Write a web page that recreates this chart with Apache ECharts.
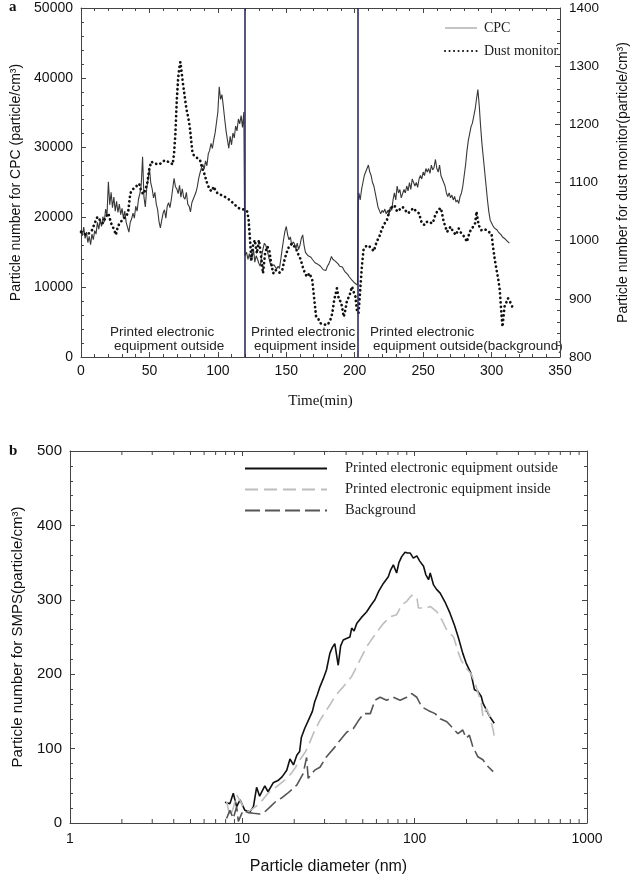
<!DOCTYPE html>
<html>
<head>
<meta charset="utf-8">
<script src="https://cdn.jsdelivr.net/npm/echarts@6/dist/echarts.min.js"></script>
<style>html,body{margin:0;padding:0;background:#fff;}#c{width:638px;height:879px;}</style>
</head>
<body>
<div id="c"></div>
<script>
// ---------- Panel a : time series ----------
const cpcSeries = [
[0,18200],[1,17400],[2,18600],[3,17000],[4,17900],[5,16400],[6,17300],[7,16100],[8,17600],[9,16800],
[10,18100],[11,17600],[12,19300],[13,18300],[14,19600],[15,18700],[16,20100],[17,19300],[18,21200],[19,20300],
[20,25100],[21,21800],[22,23600],[23,21400],[24,22900],[25,20900],[26,22300],[27,20700],[28,21900],[29,20400],
[30,21300],[31,19900],[32,20900],[33,19300],[34,19100],[35,17900],[36,19300],[37,19800],[38,20600],[39,19900],
[40,21600],[41,20900],[42,22600],[43,23400],[44,24600],[45,28700],[46,22900],[47,21500],[48,24100],[49,25400],
[50,27100],[51,24900],[52,24100],[53,22800],[54,23600],[55,21900],[56,21100],[57,19400],[58,18500],[59,19600],
[60,20600],[61,21100],[62,19900],[63,21600],[64,22100],[65,21400],[66,22600],[67,24100],[68,25600],[69,24400],
[70,24100],[71,23400],[72,24600],[73,22900],[74,24100],[75,22900],[76,22600],[77,23600],[78,21900],[79,21600],
[80,20800],[81,22100],[82,22600],[83,23100],[84,23600],[85,24400],[86,25600],[87,26400],[88,27100],[89,27600],
[90,26900],[91,28100],[92,27400],[93,29100],[94,29600],[95,30600],[96,29900],[97,31100],[98,32100],[99,33600],
[100,35100],[101,38700],[102,36900],[103,37600],[104,35900],[105,34100],[106,32400],[107,31100],[108,29900],[109,31600],
[110,30400],[111,32100],[112,31400],[113,33100],[114,32400],[115,34100],[116,33400],[117,34600],[118,32900],[119,35100],
[119.7,14500],[121,15000],[122,14000],[123,14800],[124,13800],[125,14200],[126,15500],[127,13600],[128,14500],[129,14000],
[130,13400],[131,13000],[132,14500],[133,15500],[134,16300],[135,16000],[136,15300],[137,14500],[138,13600],[139,13000],
[140,12800],[141,13200],[142,12900],[143,12600],[144,13000],[145,12700],[146,14000],[147,15500],[148,16800],[149,18000],
[150,18700],[151,17500],[152,16800],[153,17200],[154,16000],[155,16500],[156,16200],[157,15500],[158,16300],[159,15400],
[160,16000],[161,17000],[162,17500],[163,16000],[164,15000],[165,14800],[166,14500],[167,14700],[168,14300],[169,14000],
[170,13800],[171,13500],[172,13700],[173,13300],[174,13500],[175,13000],[176,12800],[177,12500],[178,12700],[179,12400],
[180,13000],[181,13300],[182,13800],[183,14400],[184,14000],[185,14200],[186,13700],[187,13500],[188,13300],[189,13000],
[190,12800],[191,12900],[192,12500],[193,12200],[194,12000],[195,11800],[196,11500],[197,11300],[198,11000],[199,10800],
[200,10600],[201,10400],[202,10300],
[202.5,22000],[203,23500],[204,22500],[205,24000],[206,25000],[207,26000],[208,26500],[209,27000],[210,27500],[211,26500],
[212,26000],[213,25000],[214,24500],[215,23500],[216,22500],[217,21500],[218,21000],[219,20500],[220,21000],[221,20700],
[222,21200],[223,20500],[224,21000],[225,20300],[226,21500],[227,21000],[228,22500],[229,23500],[230,22500],[231,24500],
[232,23500],[233,24000],[234,22800],[235,23000],[236,24000],[237,23500],[238,24500],[239,23800],[240,25000],[241,24000],
[242,25500],[243,25000],[244,24500],[245,25000],[246,24300],[247,25500],[248,26000],[249,25500],[250,26500],[251,26000],
[252,27000],[253,26500],[254,27000],[255,26300],[256,27500],[257,26800],[258,27200],[259,28300],[260,27000],[261,26500],
[262,27500],[263,26000],[264,25500],[265,25000],[266,24500],[267,23500],[268,23000],[269,23500],[270,22800],[271,23200],
[272,22500],[273,23000],[274,22200],[275,22500],[276,22000],[277,23000],[278,23500],[279,24500],[280,26000],[281,27500],
[282,29500],[283,31000],[284,32000],[285,33000],[286,33500],[287,34500],[288,35500],[289,37000],[290,38300],[291,36000],
[292,33000],[293,30500],[294,28500],[295,26500],[296,24500],[297,22500],[298,20800],[299,19600],[300,19200],[301,18800],
[302,18500],[303,18600],[304,18200],[305,17900],[306,18000],[307,17500],[308,17200],[309,17300],[310,16900],[311,16700],
[312,16500],[313,16300]
];
const dustSeries = [
[0,1015],[2,1012],[4,1010],[6,1013],[8,1018],[10,1030],[12,1041],[14,1035],[16,1030],[18,1040],
[20,1047],[22,1030],[24,1020],[25.5,1010],[27,1025],[29,1032],[31,1038],[33,1041],[34.5,1050],[36,1081],
[37.5,1088],[39,1090],[41,1095],[42.5,1098],[44,1085],[45.5,1080],[47,1087],[48.5,1100],[50,1125],[51.5,1136],
[53,1133],[55,1132],[57,1131],[59,1134],[61,1138],[63,1136],[65,1135],[67,1131],[68,1150],[69,1184],
[70,1242],[71,1280],[72,1300],[72.6,1307],[73.5,1290],[74.5,1270],[75.5,1253],[77,1227],[78.5,1210],[79.5,1195],
[80.5,1173],[81.5,1150],[83,1145],[85,1142],[87,1138],[88.5,1125],[90,1116],[92,1100],[94,1088],[95.5,1085],
[97,1093],[98.5,1085],[100,1081],[102,1079],[104,1077],[106,1074],[108,1071],[110,1067],[112,1063],[114,1058],
[116,1055],[118,1054],[120,1053],[121.5,1050],[122.5,1035],[123.5,1001],[124.5,967],[125.5,990],[127,1001],[128.5,978],
[130,1001],[131.5,975],[133,944],[134.5,978],[136,990],[137.5,985],[139,960],[140.5,944],[142,950],[143.5,947],
[145,945],[147,949],[148.5,965],[150,978],[152,990],[154,995],[156,990],[157.5,984],[159,975],[160.5,968],
[162,955],[163.5,945],[165,938],[167,944],[169,932],[170.5,898],[171.8,869],[173.5,865],[175,858],[177,856],
[180,855],[182,862],[183.6,875],[185,898],[187,918],[188.5,898],[190,895],[191,892],[192,869],[193.2,881],
[194.4,898],[196,904],[198,921],[199.5,910],[200.5,904],[201.6,881],[202.8,875],[204,915],[205.2,955],[206.4,984],
[208,990],[210,992],[212,987],[214,982],[216,998],[218,1007],[220,1021],[222,1030],[223.5,1035],[225.5,1053],
[227,1057],[229,1061],[231,1050],[233,1054],[235,1058],[237,1052],[239,1047],[241,1052],[243,1056],[245,1050],
[247,1047],[249,1030],[251,1027],[253,1033],[255,1031],[257,1030],[259,1045],[261,1053],[263,1056],[265,1033],
[267.5,1015],[270,1024],[272,1015],[274,1010],[276,1021],[278,1012],[280,1007],[282,998],[284,1015],[286,1022],
[288,1030],[289,1050],[290.5,1027],[292.5,1018],[294.5,1020],[296.5,1018],[298,1015],[300,1012],[301,990],[302.4,967],
[303.6,950],[305,932],[306,915],[307,881],[308,852],[309.5,887],[311,895],[312,901],[313.5,895],[315,887]
];
const phaseBoundaries = [120, 202.5];
const phaseLabels = [
  ['Printed electronic', 'equipment outside'],
  ['Printed electronic', 'equipment inside'],
  ['Printed electronic', 'equipment outside(background)']
];

// ---------- Panel b : size distributions ----------
const outsideSpectrum = [
[7.93,28],[8.47,26],[8.86,40],[9.27,22],[9.7,31],[10.35,17],[11.07,15],[11.6,22],[12.1,48],[12.6,36],
[13.5,50],[14.1,42],[15.1,54],[16.1,57],[17.0,62],[18.1,71],[18.9,86],[19.8,78],[20.7,91],[21.5,96],
[22.0,115],[23.0,127],[24.6,142],[25.5,150],[26.3,163],[27.2,172],[28.2,183],[29.5,194],[30.8,206],[32.2,228],
[33.3,236],[34.4,241],[36.0,212],[37.2,238],[38.5,246],[40.2,248],[42.1,250],[43.1,262],[44.5,258],[46.1,268],
[49,276],[52.7,284],[55.5,292],[58.8,300],[62,312],[65.8,322],[70.3,331],[72.5,340],[75.2,347],[78.6,336],
[81,350],[84.1,358],[87.9,364],[91,363],[94,363],[98.3,356],[102.9,359],[107,352],[112.6,345],[116,334],
[120.4,327],[123.1,336],[128.7,320],[134,314],[140.6,309],[150,297],[160.3,282],[170,266],[178.9,250],[190.2,228],
[198.9,215],[212.3,201],[222.4,179],[232.7,177],[243.5,170],[249,161],[260.8,152],[272.8,143],[289.6,134]
];
const insideSpectrum = [
[8.1,29],[8.47,9],[8.86,20],[9.27,38],[9.48,40],[9.92,26],[10.1,22],[10.8,15],[11.6,20],[12.6,26],
[13.3,33],[14.1,40],[15,45],[15.8,49],[17.7,58],[19.3,67],[20.5,76],[21.6,85],[23.0,94],[24.1,103],
[25.8,120],[28.2,138],[30.8,152],[32.5,160],[34.4,170],[36.5,177],[38.5,183],[43.1,197],[46.1,210],[48.1,219],
[52.7,237],[57.6,250],[61,258],[65.8,268],[72,277],[78.6,280],[84.1,293],[89.9,298],[96.1,306],[102.9,304],
[105.1,289],[110,289],[114.9,288],[123.1,291],[134.4,284],[143.8,273],[153.8,259],[168.2,250],[179.8,228],[186,219],
[198.9,208],[212.3,201],[227.5,183],[243.5,161],[249,143],[260.8,154],[272.8,143],[285.5,125],[292,112]
];
const backgroundSpectrum = [
[8.1,6],[8.47,17],[8.86,6],[9.27,22],[9.48,2],[10.1,17],[10.8,14],[11.6,13],[12.6,12],[13.5,15],
[14.4,21],[15.8,30],[17,34],[18.1,39],[19.4,45],[20.7,51],[22.5,66],[23.6,88],[24.1,60],[26.3,71],
[28.2,75],[30.8,89],[34.4,102],[36.8,111],[40.3,122],[44.1,127],[47,137],[50.5,147],[55.3,147],[58.8,165],
[63,169],[68.8,165],[75.2,169],[82.3,165],[89.9,169],[96.1,174],[102.9,169],[110,156],[120.4,151],[131.5,147],
[140.6,140],[153.8,136],[167.3,127],[178.3,120],[190.2,125],[198.9,114],[207.8,118],[217.2,103],[232.7,89],[249,85],
[260.8,78],[285.5,69]
];
const logMinorTicks = [2,3,4,5,6,7,8,9,20,30,40,50,60,70,80,90,200,300,400,500,600,700,800,900];

const SANS = 'Liberation Sans';
const SERIF = 'Liberation Serif';
const AX = '#444';
const plain = v => String(v);

function baseAxis(extra) {
  return Object.assign({
    axisLine: {show: true, onZero: false, lineStyle: {color: AX, width: 1}},
    axisTick: {show: true, inside: true, length: 5, lineStyle: {color: AX}},
    minorTick: {show: true, splitNumber: 5, length: 3, lineStyle: {color: AX}},
    splitLine: {show: false},
    axisLabel: {color: '#111', fontFamily: SANS, fontSize: 14, formatter: plain},
    nameTextStyle: {color: '#111', fontFamily: SANS, fontSize: 14}
  }, extra);
}

const chart = echarts.init(document.getElementById('c'), null, {renderer: 'canvas'});

const graphics = [
  {type: 'text', left: 9, top: 0, style: {text: 'a', font: 'bold 15px ' + SERIF, fill: '#111'}},
  {type: 'text', left: 9, top: 444, style: {text: 'b', font: 'bold 15px ' + SERIF, fill: '#111'}}
];
const labelPos = [[110, 114], [251, 254], [370, 373]];
phaseLabels.forEach((lines, i) => {
  graphics.push({type: 'text', left: labelPos[i][0], top: 325, style: {text: lines[0], font: '13.5px ' + SANS, fill: '#222'}});
  graphics.push({type: 'text', left: labelPos[i][1], top: 339, style: {text: lines[1], font: '13.5px ' + SANS, fill: '#222'}});
});

const option = {
  animation: false,
  backgroundColor: '#fff',
  textStyle: {fontFamily: SANS},
  grid: [
    {left: 81, top: 8, width: 487, height: 349},
    {left: 70, top: 451, width: 517, height: 372}
  ],
  legend: [
    {
      data: [{name: 'CPC', lineStyle: {color: '#8a8a8a', width: 1}}, 'Dust monitor'],
      orient: 'vertical', left: 444, top: 21, padding: 0,
      itemWidth: 32, itemHeight: 14, itemGap: 9,
      itemStyle: {opacity: 0},
      textStyle: {fontFamily: SERIF, fontSize: 14, color: '#222', padding: [0, 0, 0, 2]}
    },
    {
      data: ['Printed electronic equipment outside', 'Printed electronic equipment inside', 'Background'],
      orient: 'vertical', left: 244, top: 461, padding: 0,
      itemWidth: 82, itemHeight: 14, itemGap: 6,
      itemStyle: {opacity: 0},
      textStyle: {fontFamily: SERIF, fontSize: 14.5, color: '#222', padding: [0, 0, 0, 13]}
    }
  ],
  xAxis: [
    baseAxis({gridIndex: 0, type: 'value', min: 0, max: 350, interval: 50, position: 'bottom',
      axisLabel: {color: '#111', fontFamily: SANS, fontSize: 14, margin: 7, formatter: plain},
      name: 'Time(min)', nameLocation: 'middle', nameGap: 37,
      nameTextStyle: {color: '#111', fontFamily: SERIF, fontSize: 15}}),
    baseAxis({gridIndex: 0, type: 'value', min: 0, max: 350, interval: 50, position: 'top',
      axisLabel: {show: false}}),
    baseAxis({gridIndex: 1, type: 'log', logBase: 10, min: 1, max: 1000, position: 'bottom',
      minorTick: {show: false},
      axisLabel: {color: '#111', fontFamily: SANS, fontSize: 14, margin: 9, formatter: plain},
      name: 'Particle diameter (nm)', nameLocation: 'middle', nameGap: 36,
      nameTextStyle: {color: '#111', fontFamily: SANS, fontSize: 16}}),
    baseAxis({gridIndex: 1, type: 'log', logBase: 10, min: 1, max: 1000, position: 'top',
      minorTick: {show: false}, axisLabel: {show: false}})
  ],
  yAxis: [
    baseAxis({gridIndex: 0, type: 'value', min: 0, max: 50000, interval: 10000, position: 'left',
      axisLabel: {color: '#111', fontFamily: SANS, fontSize: 14, margin: 8, formatter: plain},
      name: 'Particle number for CPC (particle/cm³)', nameLocation: 'middle', nameGap: 56, nameRotate: 90}),
    baseAxis({gridIndex: 0, type: 'value', min: 800, max: 1400, interval: 100, position: 'right',
      axisLabel: {color: '#111', fontFamily: SANS, fontSize: 13.5, margin: 9, formatter: plain},
      name: 'Particle number for dust monitor(particle/cm³)', nameLocation: 'middle', nameGap: 56, nameRotate: 90}),
    baseAxis({gridIndex: 1, type: 'value', min: 0, max: 500, interval: 100, position: 'left',
      axisLabel: {color: '#111', fontFamily: SANS, fontSize: 15, margin: 8, formatter: plain},
      name: 'Particle number for SMPS(particle/cm³)', nameLocation: 'middle', nameGap: 45, nameRotate: 90,
      nameTextStyle: {color: '#111', fontFamily: SANS, fontSize: 15}}),
    baseAxis({gridIndex: 1, type: 'value', min: 0, max: 500, interval: 100, position: 'right',
      axisLabel: {show: false}})
  ],
  series: [
    {
      name: 'CPC', type: 'line', xAxisIndex: 0, yAxisIndex: 0, data: cpcSeries,
      symbol: 'none', showSymbol: false,
      lineStyle: {color: '#383838', width: 1.1}, itemStyle: {color: '#777'},
      markLine: {
        silent: true, symbol: ['none', 'none'], label: {show: false},
        lineStyle: {color: '#2d2d5e', width: 1.6, type: 'solid'},
        data: phaseBoundaries.map(v => ({xAxis: v}))
      }
    },
    {
      name: 'Dust monitor', type: 'line', xAxisIndex: 0, yAxisIndex: 1, data: dustSeries,
      symbol: 'none', showSymbol: false,
      lineStyle: {color: '#111', width: 2.7, type: [0.1, 4.4], cap: 'round'}, itemStyle: {color: '#111'}
    },
    {
      name: 'Printed electronic equipment outside', type: 'line', xAxisIndex: 2, yAxisIndex: 2,
      data: outsideSpectrum, symbol: 'none', showSymbol: false,
      lineStyle: {color: '#111', width: 1.6}, itemStyle: {color: '#111'}
    },
    {
      name: 'Printed electronic equipment inside', type: 'line', xAxisIndex: 2, yAxisIndex: 2,
      data: insideSpectrum, symbol: 'none', showSymbol: false,
      lineStyle: {color: '#bdbdbd', width: 1.6, type: [13, 6]}, itemStyle: {color: '#bdbdbd'}
    },
    {
      name: 'Background', type: 'line', xAxisIndex: 2, yAxisIndex: 2,
      data: backgroundSpectrum, symbol: 'none', showSymbol: false,
      lineStyle: {color: '#555', width: 1.6, type: [15, 5]}, itemStyle: {color: '#555'}
    },
    {
      type: 'custom', xAxisIndex: 2, yAxisIndex: 2, silent: true,
      data: logMinorTicks.map(v => [v, 0]),
      renderItem: function (params, api) {
        const p0 = api.coord([api.value(0), 0]);
        const p1 = api.coord([api.value(0), 500]);
        const st = {stroke: AX, lineWidth: 1};
        return {type: 'group', children: [
          {type: 'line', shape: {x1: p0[0], y1: p0[1], x2: p0[0], y2: p0[1] - 4}, style: st},
          {type: 'line', shape: {x1: p1[0], y1: p1[1], x2: p1[0], y2: p1[1] + 4}, style: st}
        ]};
      },
      z: 5
    }
  ],
  graphic: graphics
};
chart.setOption(option);
</script>
</body>
</html>
